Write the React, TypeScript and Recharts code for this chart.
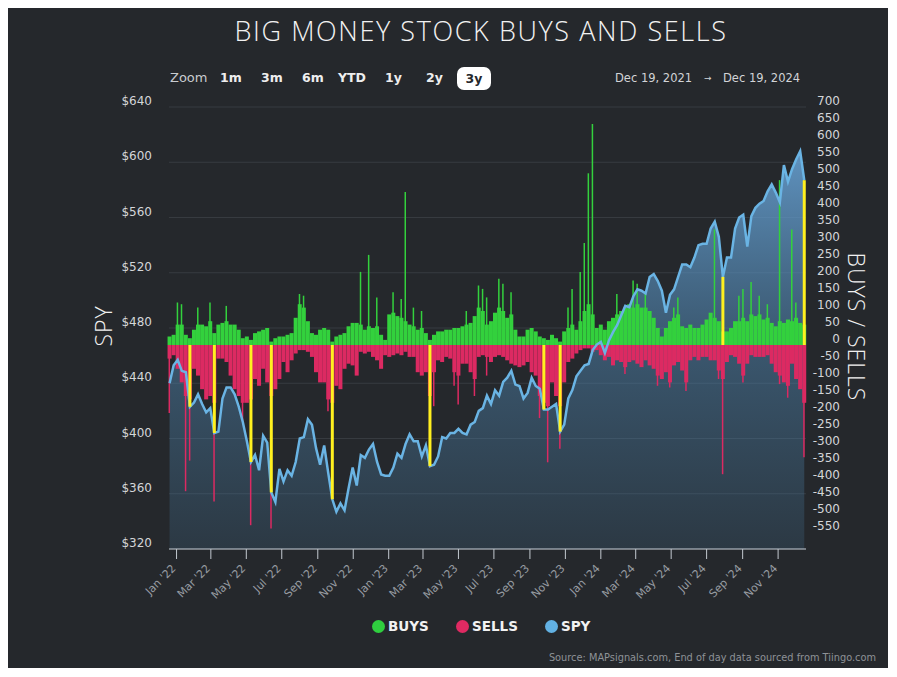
import {
  ComposedChart,
  Area,
  Bar,
  Line,
  XAxis,
  YAxis,
  CartesianGrid,
  ReferenceLine,
} from "recharts";

// weekly rows, first week starts Monday 2021-12-20
const firstWeek = "2021-12-20";

// SPY (adjusted), one value per week
const spy = [
  440, 453, 457, 449, 448, 423, 426, 432, 425, 419,
  422, 404, 405, 429, 437, 437, 432, 423, 412, 398,
  383, 388, 377, 402, 397, 361, 354, 378, 369, 377,
  373, 383, 400, 401, 414, 410, 393, 381, 395, 375,
  356, 347, 353, 348, 364, 379, 366, 388, 386, 392,
  396, 383, 374, 373, 373, 379, 389, 386, 396, 403,
  398, 398, 387, 395, 380, 381, 387, 401, 400, 404,
  404, 407, 404, 403, 410, 412, 420, 422, 431, 425,
  435, 431, 441, 444, 449, 439, 438, 429, 433, 444,
  438, 436, 421, 421, 423, 425, 405, 410, 429, 435,
  445, 449, 453, 454, 464, 468, 470, 462, 471, 477,
  482, 489, 496, 495, 503, 508, 507, 505, 517, 519,
  514, 507, 491, 504, 508, 517, 526, 526, 524, 531,
  540, 541, 541, 552, 557, 546, 517, 531, 531, 552,
  560, 562, 539, 561, 567, 570, 572, 579, 584, 578,
  571, 598, 586, 595, 602, 608, 587,
];

// typical weekly buy level
const buys = [
  25, 30, 60, 60, 30, 20, 45, 60, 60, 55,
  70, 35, 60, 65, 70, 60, 60, 45, 20, 25,
  15, 35, 40, 45, 50, 10, 20, 25, 25, 30,
  35, 80, 120, 110, 70, 35, 30, 45, 50, 45,
  10, 25, 30, 35, 55, 65, 65, 60, 45, 55,
  50, 55, 30, 15, 90, 95, 85, 80, 70, 60,
  55, 45, 50, 35, 15, 30, 40, 40, 45, 45,
  50, 50, 55, 60, 65, 85, 110, 100, 60, 70,
  95, 110, 100, 80, 90, 45, 25, 25, 45, 50,
  40, 25, 20, 15, 30, 20, 10, 40, 50, 60,
  45, 70, 100, 120, 90, 50, 60, 45, 70, 80,
  90, 100, 110, 120, 110, 120, 110, 110, 100, 80,
  50, 25, 50, 70, 80, 90, 55, 50, 60, 50,
  50, 60, 75, 95, 80, 70, 40, 40, 50, 70,
  70, 80, 70, 90, 85, 90, 75, 80, 65, 55,
  70, 65, 75, 70, 80, 65, 60,
];

// typical weekly sell level
const sells = [
  -40, -30, -70, -110, -150, -160, -70, -90, -130, -160,
  -150, -170, -40, -40, -50, -90, -130, -150, -170, -170,
  -160, -100, -120, -70, -110, -150, -130, -100, -50, -80,
  -45, -25, -15, -15, -20, -35, -80, -110, -110, -160,
  -170, -120, -130, -70, -55, -60, -90, -20, -25, -20,
  -35, -45, -70, -30, -35, -30, -25, -30, -20, -35,
  -35, -80, -90, -80, -150, -80, -45, -50, -35, -40,
  -80, -90, -55, -55, -80, -100, -35, -30, -35, -50,
  -35, -30, -35, -45, -55, -60, -65, -60, -50, -80,
  -90, -150, -170, -180, -110, -150, -180, -110, -50, -40,
  -25, -15, -10, -10, -20, -15, -30, -45, -35, -60,
  -45, -50, -65, -50, -45, -55, -65, -45, -60, -70,
  -90, -100, -80, -110, -60, -50, -75, -110, -45, -35,
  -45, -35, -35, -45, -45, -75, -100, -50, -30, -35,
  -55, -90, -55, -30, -35, -35, -35, -30, -55, -80,
  -90, -110, -120, -55, -100, -130, -170,
];

// single-day spikes, by week
const buySpikes: [string, number][] = [
  ["2022-01-03", 125], ["2022-01-10", 120], ["2022-02-07", 110], ["2022-02-28", 125],
  ["2022-03-28", 115], ["2022-08-01", 150], ["2022-08-08", 145], ["2022-11-14", 215],
  ["2022-11-28", 265], ["2022-12-12", 140], ["2023-01-09", 155], ["2023-01-23", 135],
  ["2023-01-30", 450], ["2023-02-13", 110], ["2023-02-27", 100], ["2023-05-15", 100],
  ["2023-06-05", 175], ["2023-06-12", 165], ["2023-06-19", 140], ["2023-07-10", 195],
  ["2023-07-17", 180], ["2023-07-31", 155], ["2023-11-06", 110], ["2023-11-13", 165],
  ["2023-11-27", 215], ["2023-12-04", 300], ["2023-12-11", 505], ["2023-12-18", 650],
  ["2024-01-29", 150], ["2024-02-26", 190], ["2024-03-04", 180], ["2024-03-18", 150],
  ["2024-05-06", 110], ["2024-05-13", 140], ["2024-07-15", 340], ["2024-08-26", 145],
  ["2024-09-02", 165], ["2024-09-16", 185], ["2024-09-30", 145], ["2024-10-14", 120],
  ["2024-11-04", 485], ["2024-11-25", 340], ["2024-12-02", 125],
];

const sellSpikes: [string, number][] = [
  ["2021-12-20", -200], ["2022-01-17", -430], ["2022-01-24", -340], ["2022-03-07", -460],
  ["2022-04-25", -225], ["2022-05-09", -530], ["2022-06-13", -540], ["2022-09-19", -195],
  ["2022-09-26", -300], ["2023-03-13", -360], ["2023-03-20", -180], ["2023-04-24", -120],
  ["2023-05-01", -175], ["2023-05-29", -150], ["2023-06-19", -90], ["2023-09-18", -215],
  ["2023-10-02", -345], ["2023-10-23", -305], ["2024-02-12", -85], ["2024-04-08", -120],
  ["2024-04-29", -125], ["2024-05-27", -135], ["2024-07-22", -100], ["2024-07-29", -380],
  ["2024-09-02", -110], ["2024-11-04", -115], ["2024-11-18", -155], ["2024-12-16", -330],
];

// yellow signal weeks
const signalWeeks = [
  "2022-01-24", "2022-03-07", "2022-05-09", "2022-06-13", "2022-09-26",
  "2023-03-13", "2023-09-25", "2023-10-23", "2024-07-29", "2024-12-16",
];

const monthTicks = [
  "2022-01-01", "2022-03-01", "2022-05-01", "2022-07-01", "2022-09-01", "2022-11-01",
  "2023-01-01", "2023-03-01", "2023-05-01", "2023-07-01", "2023-09-01", "2023-11-01",
  "2024-01-01", "2024-03-01", "2024-05-01", "2024-07-01", "2024-09-01", "2024-11-01",
];
const monthNames = ["Jan", "Feb", "Mar", "Apr", "May", "Jun", "Jul", "Aug", "Sep", "Oct", "Nov", "Dec"];

const priceTicks = [320, 360, 400, 440, 480, 520, 560, 600, 640];
const flowTicks = [
  -550, -500, -450, -400, -350, -300, -250, -200, -150, -100, -50, 0,
  50, 100, 150, 200, 250, 300, 350, 400, 450, 500, 550, 600, 650, 700,
];
const priceDomain = [320, 640];
const flowDomain = [-600, 700];

const zoomButtons = ["1m", "3m", "6m", "YTD", "1y", "2y", "3y"];
const rangeFrom = "Dec 19, 2021";
const rangeTo = "Dec 19, 2024";

const legendItems = [
  { name: "BUYS", color: "#2fcf3f" },
  { name: "SELLS", color: "#df2a62" },
  { name: "SPY", color: "#62b1e3" },
];

const BG = "#25282c";
const GREEN = "#33d13d";
const PINK = "#dc2a62";
const BLUE = "#6ab4e4";
const YELLOW = "#fff01f";
const FONT = "'DejaVu Sans', sans-serif";
const LIGHT_FONT = "'Open Sans', 'DejaVu Sans', sans-serif";

const DAY = 86400000;
const ts = (d: string) => Date.parse(d + "T00:00:00Z");
const t0 = ts(firstWeek);
const xDomain = [ts("2021-12-19"), ts("2024-12-19")];

const buyPeakByWeek = new Map(buySpikes.map(([d, v]) => [ts(d), v]));
const sellPeakByWeek = new Map(sellSpikes.map(([d, v]) => [ts(d), v]));

const rows = spy.map((v, i) => {
  const t = t0 + i * 7 * DAY;
  return {
    t,
    spy: v,
    buys: buys[i],
    sells: sells[i],
    buyPeak: buyPeakByWeek.get(t) ?? 0,
    sellPeak: sellPeakByWeek.get(t) ?? 0,
  };
});

// price level where the buys/sells zero line sits
const zeroPrice =
  priceDomain[0] +
  ((0 - flowDomain[0]) / (flowDomain[1] - flowDomain[0])) * (priceDomain[1] - priceDomain[0]);

const signals = signalWeeks
  .map((d) => rows.find((r) => r.t === ts(d)))
  .filter(Boolean) as typeof rows;

const fmtMonth = (t: number) => {
  const d = new Date(t);
  return `${monthNames[d.getUTCMonth()]} '${String(d.getUTCFullYear()).slice(2)}`;
};

const MonthTick = (props: any) => {
  const { x, y, payload } = props;
  return (
    <text
      x={x}
      y={y}
      transform={`rotate(-45 ${x} ${y})`}
      textAnchor="end"
      fill="#979ca2"
      fontSize={11}
    >
      {fmtMonth(payload.value)}
    </text>
  );
};

const PriceTick = (props: any) => {
  const { x, y, payload } = props;
  return (
    <text x={x} y={y - 2} textAnchor="end" fill="#d4d6d9" fontSize={12}>
      ${payload.value}
    </text>
  );
};

const FlowTick = (props: any) => {
  const { x, y, payload } = props;
  return (
    <text x={x} y={y - 2} textAnchor="end" fill="#d4d6d9" fontSize={12}>
      {payload.value}
    </text>
  );
};

export default function App() {
  return (
    <div
      style={{
        position: "relative",
        width: 880,
        height: 660,
        background: BG,
        fontFamily: FONT,
        overflow: "hidden",
      }}
    >
      {/* title */}
      <div
        style={{
          position: "absolute",
          left: 473,
          top: 8,
          transform: "translateX(-50%)",
          fontFamily: LIGHT_FONT,
          fontSize: 27,
          lineHeight: "30px",
          fontWeight: 300,
          letterSpacing: 1.6,
          color: "#f2f2f2",
          whiteSpace: "nowrap",
        }}
      >
        BIG MONEY STOCK BUYS AND SELLS
      </div>

      {/* range selector */}
      <div style={{ position: "absolute", left: 162, top: 62, fontSize: 13, lineHeight: "16px", color: "#c9ccd0" }}>
        Zoom
      </div>
      {zoomButtons.map((b, i) => {
        const left = [212, 253, 294, 330, 377, 418, 449][i];
        const active = b === "3y";
        return (
          <div
            key={b}
            style={{
              position: "absolute",
              left,
              top: active ? 59 : 62,
              width: active ? 34 : undefined,
              height: active ? 23 : undefined,
              lineHeight: active ? "23px" : "16px",
              textAlign: "center",
              borderRadius: 7,
              background: active ? "#ffffff" : "transparent",
              color: active ? "#25282c" : "#eeeeee",
              fontSize: 12.5,
              fontWeight: 700,
            }}
          >
            {b}
          </div>
        );
      })}
      <div style={{ position: "absolute", left: 607, top: 62, fontSize: 11.5, lineHeight: "16px", color: "#d2d4d7" }}>
        {rangeFrom}
      </div>
      <div style={{ position: "absolute", left: 696, top: 62, fontSize: 9, lineHeight: "16px", color: "#d2d4d7" }}>
        →
      </div>
      <div style={{ position: "absolute", left: 715, top: 62, fontSize: 11.5, lineHeight: "16px", color: "#d2d4d7" }}>
        {rangeTo}
      </div>

      <div style={{ position: "absolute", left: 0, top: 0 }}>
        <ComposedChart
          width={880}
          height={610}
          data={rows}
          stackOffset="sign"
          margin={{ top: 99, right: 0, bottom: 0, left: 0 }}
        >
          <defs>
            <linearGradient id="spyFill" x1="0" y1="0" x2="0" y2="1">
              <stop offset="0%" stopColor="#6aa6da" stopOpacity={0.85} />
              <stop offset="50%" stopColor="#4f85b0" stopOpacity={0.5} />
              <stop offset="100%" stopColor="#487da4" stopOpacity={0.2} />
            </linearGradient>
          </defs>

          <CartesianGrid xAxisId="t" yAxisId="spy" vertical={false} stroke="#373b40" />

          <XAxis xAxisId="p" dataKey="t" type="number" domain={xDomain} height={0} hide />
          <XAxis
            xAxisId="t"
            dataKey="t"
            type="number"
            domain={xDomain}
            ticks={monthTicks.map(ts)}
            interval={0}
            height={69}
            tickSize={10}
            tickMargin={10}
            tick={<MonthTick />}
            axisLine={{ stroke: "#c3c9d0" }}
            tickLine={{ stroke: "#c3c9d0" }}
          />

          <YAxis
            yAxisId="spy"
            orientation="left"
            width={161}
            domain={priceDomain}
            ticks={priceTicks}
            interval={0}
            tickSize={0}
            tickMargin={17}
            axisLine={false}
            tickLine={false}
            tick={<PriceTick />}
          />
          <YAxis
            yAxisId="flow"
            orientation="right"
            width={82}
            domain={flowDomain}
            ticks={flowTicks}
            interval={0}
            tickSize={0}
            tickMargin={34}
            axisLine={false}
            tickLine={false}
            tick={<FlowTick />}
          />

          <Area
            xAxisId="t"
            yAxisId="spy"
            dataKey="spy"
            type="linear"
            stroke="none"
            fill="url(#spyFill)"
            fillOpacity={1}
            isAnimationActive={false}
          />

          <Bar xAxisId="t" yAxisId="flow" dataKey="buys" stackId="mass" fill={GREEN} barSize={4} isAnimationActive={false} />
          <Bar xAxisId="t" yAxisId="flow" dataKey="sells" stackId="mass" fill={PINK} barSize={4} isAnimationActive={false} />
          <Bar xAxisId="p" yAxisId="flow" dataKey="buyPeak" stackId="peak" fill={GREEN} barSize={1.5} isAnimationActive={false} />
          <Bar xAxisId="p" yAxisId="flow" dataKey="sellPeak" stackId="peak" fill={PINK} barSize={1.5} isAnimationActive={false} />

          <Line
            xAxisId="t"
            yAxisId="spy"
            dataKey="spy"
            type="linear"
            stroke={BLUE}
            strokeWidth={2.5}
            dot={false}
            activeDot={false}
            isAnimationActive={false}
          />

          {signals.map((r) => (
            <ReferenceLine
              key={r.t}
              xAxisId="t"
              yAxisId="spy"
              segment={[
                { x: r.t, y: zeroPrice },
                { x: r.t, y: r.spy },
              ]}
              stroke={YELLOW}
              strokeWidth={3}
            />
          ))}
        </ComposedChart>
      </div>

      {/* axis titles */}
      <div
        style={{
          position: "absolute",
          left: 95,
          top: 318,
          transform: "translate(-50%, -50%) rotate(-90deg)",
          fontFamily: LIGHT_FONT,
          fontSize: 23,
          fontWeight: 300,
          letterSpacing: 1,
          color: "#f0f0f0",
          whiteSpace: "nowrap",
        }}
      >
        SPY
      </div>
      <div
        style={{
          position: "absolute",
          left: 849,
          top: 319,
          transform: "translate(-50%, -50%) rotate(90deg)",
          fontFamily: LIGHT_FONT,
          fontSize: 23,
          fontWeight: 300,
          letterSpacing: 1,
          color: "#f0f0f0",
          whiteSpace: "nowrap",
        }}
      >
        BUYS / SELLS
      </div>

      {/* legend */}
      {legendItems.map((item, i) => {
        const cx = [370, 454, 543][i];
        return (
          <div key={item.name}>
            <div
              style={{
                position: "absolute",
                left: cx - 6.5,
                top: 618 - 6.5,
                width: 13,
                height: 13,
                borderRadius: "50%",
                background: item.color,
              }}
            />
            <div
              style={{
                position: "absolute",
                left: cx + 10,
                top: 610,
                lineHeight: "16px",
                fontSize: 13.5,
                fontWeight: 700,
                color: "#f2f2f2",
              }}
            >
              {item.name}
            </div>
          </div>
        );
      })}

      {/* source */}
      <div
        style={{
          position: "absolute",
          right: 12,
          top: 643,
          fontSize: 9.8,
          lineHeight: "14px",
          color: "#8e9297",
          whiteSpace: "nowrap",
        }}
      >
        Source: MAPsignals.com, End of day data sourced from Tiingo.com
      </div>
    </div>
  );
}
